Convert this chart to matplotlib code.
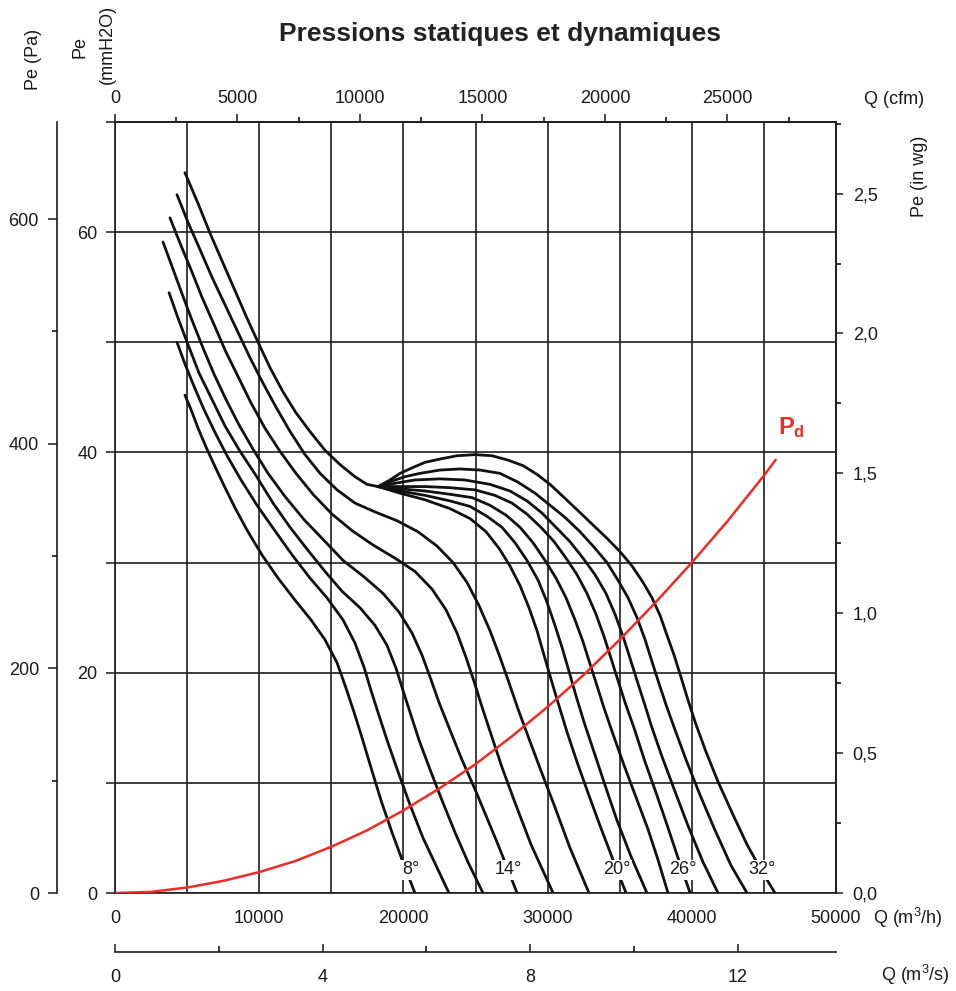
"""
Courbes débit / pression d'un ventilateur hélicoïde (angles de pale 8° à 32°)
"""
import matplotlib
matplotlib.use("Agg")
import matplotlib.pyplot as plt
from matplotlib.ticker import FuncFormatter
import numpy as np

plt.rcParams["font.family"] = ["Liberation Sans", "DejaVu Sans"]
plt.rcParams["mathtext.fontset"] = "custom"
plt.rcParams["mathtext.rm"] = "Liberation Sans"
plt.rcParams["mathtext.bf"] = "Liberation Sans:bold"
plt.rcParams["mathtext.it"] = "Liberation Sans:italic"

# ── couleurs ──────────────────────────────────────────
C_CURVE = "#111111"
C_GRID = "#1e1e1e"
C_PD = "#ee2b24"
C_TEXT = "#1a1a1a"

# ── données : Q (m3/h), Pe (mmH2O) ─────────────────────
q_08 = [4850, 5270, 5760, 6310, 6940, 7630, 8390, 9220, 10190, 11300, 12480, 13590, 14560, 15400,
        16020, 16580, 17130, 17750, 18450, 19210, 19970, 20800]
p_08 = [45.2, 43.9, 42.2, 40.5, 38.7, 36.8, 34.8, 32.8, 30.7, 28.6, 26.6, 24.8, 23.0, 20.9,
        18.6, 16.4, 14.1, 11.4, 8.4, 5.5, 2.8, 0.0]

q_10 = [4300, 4860, 5480, 6170, 6940, 7770, 8740, 9850, 11030, 12280, 13520, 14700, 15810, 16640,
        17270, 17750, 18240, 18860, 19630, 20460, 21360, 22260, 23160]
p_10 = [50.0, 48.0, 46.0, 43.9, 41.8, 39.7, 37.5, 35.2, 33.0, 30.7, 28.6, 26.8, 24.8, 22.7,
        20.5, 18.4, 16.4, 13.9, 11.0, 8.0, 5.0, 2.5, 0.0]

q_12 = [3750, 4370, 5060, 5830, 6730, 7630, 8670, 9780, 10960, 12140, 13390, 14560, 15740, 16990,
        18030, 18860, 19490, 19970, 20460, 21080, 21850, 22680, 23580, 24480, 25520]
p_12 = [54.5, 52.2, 49.8, 47.2, 44.8, 42.4, 40.1, 37.9, 35.4, 33.2, 31.1, 29.2, 27.4, 25.9,
        24.3, 22.5, 20.4, 18.4, 16.4, 13.9, 11.2, 8.4, 5.5, 2.8, 0.0]

q_14 = [3330, 3950, 4650, 5340, 6100, 6870, 7700, 8600, 9570, 10610, 11790, 13110, 14430, 15810,
        17270, 18590, 19700, 20600, 21290, 21850, 22470, 23230, 24060, 24970, 25800, 26560,
        27260, 27880]
p_14 = [59.1, 56.9, 54.4, 52.0, 49.5, 47.1, 44.8, 42.5, 40.3, 38.1, 36.0, 33.9, 32.1, 30.2,
        28.7, 27.2, 25.5, 23.6, 21.6, 19.6, 17.3, 14.8, 12.1, 9.4, 6.8, 4.4,
        2.1, 0.0]

q_16 = [3810, 4510, 5270, 6030, 6870, 7700, 8530, 9430, 10400, 11440, 12550, 13730, 15050, 16440,
        17890, 19420, 20800, 21980, 22960, 23720, 24340, 24900, 25450, 26080, 26840, 27740,
        28850, 30380]
p_16 = [61.3, 59.0, 56.6, 54.1, 51.6, 49.1, 46.9, 44.5, 42.2, 40.1, 38.1, 36.2, 34.4, 32.9,
        31.6, 30.4, 29.2, 27.6, 25.7, 23.6, 21.4, 19.2, 16.9, 14.4, 11.4, 8.2,
        4.4, 0.0]

q_18 = [4300, 5060, 5900, 6730, 7630, 8530, 9360, 10260, 11170, 12140, 13180, 14220, 15400, 16640,
        18030, 19560, 21010, 22330, 23440, 24410, 25240, 26010, 26700, 27320, 27950, 28710,
        29540, 30450, 31550, 32870]
p_18 = [63.4, 60.9, 58.4, 55.9, 53.4, 50.9, 48.6, 46.3, 44.1, 41.9, 39.8, 38.1, 36.6, 35.4,
        34.6, 33.8, 32.8, 31.5, 30.0, 28.2, 26.1, 23.8, 21.4, 19.1, 16.7, 14.0,
        11.1, 8.0, 4.1, 0.0]

# branche commune (zone de décrochage) des angles 20° à 32°, jusqu'au point de pincement
q_stall = [4850, 5760, 6590, 7420, 8320, 9150, 9920, 10750, 11650, 12550, 13520, 14560, 15600,
           16640, 17480, 18240]
p_stall = [65.4, 62.6, 59.9, 57.4, 54.7, 52.2, 50.0, 47.7, 45.5, 43.6, 41.9, 40.2, 38.9,
           37.8, 37.1, 36.9]

q_20 = [19770, 21500, 23230, 24620, 25730, 26630, 27390, 28090, 28710, 29270, 29750, 30240,
        30720, 31350, 32040, 32800, 33640, 34540, 35440]
p_20 = [36.3, 35.7, 34.9, 34.0, 32.8, 31.3, 29.7, 27.9, 25.9, 23.8, 21.6, 19.4,
        17.3, 14.6, 11.9, 9.1, 6.1, 3.0, 0.0]

q_22 = [19770, 21500, 23230, 24620, 25800, 26840, 27740, 28570, 29340, 29960, 30510, 31000,
        31490, 31970, 32530, 33220, 33980, 34810, 35790, 36890]
p_22 = [36.5, 36.1, 35.6, 35.1, 34.2, 33.2, 31.8, 30.2, 28.4, 26.4, 24.3, 22.3,
        20.1, 17.9, 15.5, 12.8, 9.8, 6.6, 3.3, 0.0]

q_24 = [19770, 21500, 23230, 24760, 26010, 27120, 28090, 28990, 29820, 30580, 31280, 31900,
        32460, 32940, 33430, 33910, 34540, 35300, 36130, 36960, 37660, 38350]
p_24 = [36.7, 36.5, 36.2, 35.9, 35.2, 34.3, 33.2, 31.8, 30.2, 28.6, 26.8, 24.8,
        22.8, 20.8, 18.8, 16.8, 14.4, 11.6, 8.7, 5.8, 3.0, 0.0]

q_26 = [19770, 21500, 23230, 24970, 26350, 27530, 28570, 29540, 30450, 31280, 32040, 32730,
        33360, 33910, 34400, 34880, 35370, 35990, 36760, 37520, 38280, 39040, 39880]
p_26 = [36.9, 36.9, 36.8, 36.6, 36.1, 35.4, 34.4, 33.2, 31.9, 30.4, 28.9, 27.2,
        25.3, 23.3, 21.3, 19.3, 17.3, 15.0, 11.9, 9.1, 6.2, 3.2, 0.0]

q_28 = [19420, 20800, 22540, 24270, 26010, 27390, 28570, 29610, 30580, 31550, 32460, 33290,
        34050, 34680, 35230, 35720, 36200, 36690, 37240, 37930, 38840, 39740, 40780, 41820]
p_28 = [37.2, 37.5, 37.6, 37.5, 37.1, 36.5, 35.6, 34.5, 33.2, 31.9, 30.4, 28.9,
        27.2, 25.3, 23.3, 21.3, 19.3, 17.3, 15.0, 12.4, 9.2, 6.1, 2.8, 0.0]

q_30 = [19210, 20110, 21150, 22540, 23930, 25310, 26700, 27950, 29130, 30170, 31210, 32250,
        33220, 34120, 34880, 35580, 36200, 36760, 37240, 37730, 38210, 38840, 39600, 40570,
        41610, 42720, 43830]
p_30 = [37.4, 37.8, 38.1, 38.4, 38.5, 38.4, 38.1, 37.3, 36.3, 35.2, 34.1, 32.8,
        31.4, 30.0, 28.4, 26.8, 25.0, 23.0, 21.0, 19.0, 17.1, 14.8, 12.1, 8.9,
        5.7, 2.5, 0.0]

q_32 = [19070, 19770, 20600, 21500, 22540, 23720, 24970, 26150, 27260, 28300, 29270, 30170,
        31070, 32040, 33080, 34120, 35020, 35850, 36620, 37240, 37800, 38280, 38770, 39250,
        39740, 40290, 40990, 41820, 42860, 43830, 44800, 45770]
p_32 = [37.5, 38.1, 38.6, 39.1, 39.4, 39.7, 39.8, 39.7, 39.3, 38.8, 38.0, 37.1,
        36.0, 34.8, 33.5, 32.2, 31.0, 29.7, 28.2, 26.8, 25.2, 23.4, 21.6, 19.6,
        17.5, 15.3, 12.8, 10.1, 7.1, 4.4, 2.1, 0.0]

# pression dynamique Pd
q_pd = [0, 2500, 5000, 7500, 10000, 12500, 15000, 17500, 20000, 22500, 25000, 27500, 30000,
        32500, 35000, 37500, 40000, 42500, 45000, 45800]
p_pd = [0.0, 0.1, 0.5, 1.1, 1.9, 2.9, 4.2, 5.7, 7.5, 9.5, 11.7, 14.2, 16.9,
        19.8, 23.0, 26.4, 30.0, 33.8, 37.9, 39.3]

# étiquettes d'angle
angle_labels = ["8°", "14°", "20°", "26°", "32°"]
angle_q = [20500, 27300, 34800, 39400, 44900]
angle_p = [2.1, 2.1, 2.1, 2.1, 2.1]

# ── mise en page (pixels -> fractions) ────────────────
W_PX, H_PX = 956, 991


def fx(px):
    return px / W_PX


def fy(py):
    return 1 - py / H_PX


fig = plt.figure(figsize=(W_PX / 100, H_PX / 100), dpi=100)
ax = fig.add_axes([fx(115), fy(893), fx(836) - fx(115), fy(122) - fy(893)])

Q_MAX, P_MAX = 50000, 70.0
ax.set_xlim(0, Q_MAX)
ax.set_ylim(0, P_MAX)

ax.set_xticks(np.arange(0, 50001, 10000))
ax.set_xticks(np.arange(5000, 50000, 10000), minor=True)
ax.set_yticks([0, 20, 40, 60])
ax.set_yticks([10, 30, 50, 70], minor=True)
ax.grid(True, which="both", color=C_GRID, lw=1.2)
ax.tick_params(axis="x", which="both", length=0, pad=12, labelsize=13, colors=C_TEXT)
ax.tick_params(axis="y", which="both", direction="out", length=6.5, width=1.1,
               pad=6, labelsize=13, colors=C_TEXT)
for s in ax.spines.values():
    s.set_linewidth(1.2)
    s.set_color(C_GRID)

# courbes
line_kw = dict(color=C_CURVE, lw=2.0, solid_joinstyle="round", solid_capstyle="round", zorder=3)
lower = [(q_08, p_08), (q_10, p_10), (q_12, p_12), (q_14, p_14), (q_16, p_16), (q_18, p_18)]
upper = [(q_20, p_20), (q_22, p_22), (q_24, p_24), (q_26, p_26), (q_28, p_28), (q_30, p_30), (q_32, p_32)]
for q, p in lower:
    ax.plot(q, p, **line_kw)
ax.plot(q_stall, p_stall, **line_kw)
for q, p in upper:
    ax.plot([q_stall[-1]] + q, [p_stall[-1]] + p, **line_kw)

ax.plot(q_pd, p_pd, color=C_PD, lw=1.8, zorder=4)
ax.text(46900, 42.3, r"$\mathbf{P_d}$", color=C_PD, fontsize=17, ha="center", va="center")

for lab, q, p in zip(angle_labels, angle_q, angle_p):
    ax.text(q, p, lab, ha="center", va="center", fontsize=13, color=C_TEXT,
            bbox=dict(boxstyle="square,pad=0.08", fc="white", ec="none"), zorder=5)

# axe Pa (gauche, décalé)
axpa = ax.twinx()
axpa.set_ylim(0, P_MAX * 9.80665)
axpa.yaxis.set_ticks_position("left")
axpa.spines["left"].set_position(("outward", 41.8))
for side in ("right", "top", "bottom"):
    axpa.spines[side].set_visible(False)
axpa.spines["left"].set_linewidth(1.2)
axpa.spines["left"].set_color(C_GRID)
axpa.set_yticks([0, 200, 400, 600])
axpa.set_yticks([100, 300, 500], minor=True)
axpa.tick_params(axis="y", which="major", length=6.5, width=1.1, pad=6.5, labelsize=13, colors=C_TEXT)
axpa.tick_params(axis="y", which="minor", length=3.6, width=1.1)

# axe in wg (droite)
axwg = ax.twinx()
axwg.set_ylim(0, P_MAX / 25.4)
for side in ("left", "top", "bottom"):
    axwg.spines[side].set_visible(False)
axwg.spines["right"].set_linewidth(1.2)
axwg.spines["right"].set_color(C_GRID)
axwg.set_yticks(np.arange(0, 2.51, 0.5))
axwg.set_yticks(np.arange(0.25, 2.76, 0.5), minor=True)
axwg.yaxis.set_major_formatter(FuncFormatter(lambda v, _: f"{v:.1f}".replace(".", ",")))
axwg.tick_params(axis="y", which="major", length=5, width=1.1, pad=7, labelsize=13, colors=C_TEXT)
axwg.tick_params(axis="y", which="minor", length=3.6, width=1.1)

# axe cfm (haut)
axc = ax.twiny()
axc.set_xlim(0, Q_MAX / 1.699)
for side in ("left", "right", "bottom"):
    axc.spines[side].set_visible(False)
axc.spines["top"].set_linewidth(1.2)
axc.spines["top"].set_color(C_GRID)
axc.set_xticks(np.arange(0, 25001, 5000))
axc.set_xticks(np.arange(2500, 29000, 5000), minor=True)
axc.tick_params(axis="x", which="major", length=5.8, width=1.1, pad=5, labelsize=13, colors=C_TEXT)
axc.tick_params(axis="x", which="minor", length=3.6, width=1.1)

# axe m3/s (bas, séparé)
ax3 = fig.add_axes([fx(115), fy(952), fx(836) - fx(115), 0.01])
ax3.set_xlim(0, Q_MAX / 3600)
ax3.patch.set_visible(False)
for side in ("left", "right", "top"):
    ax3.spines[side].set_visible(False)
ax3.spines["bottom"].set_linewidth(1.2)
ax3.spines["bottom"].set_color(C_GRID)
ax3.set_yticks([])
ax3.set_xticks([0, 4, 8, 12])
ax3.set_xticks([2, 6, 10], minor=True)
ax3.tick_params(axis="x", which="major", direction="in", length=6, width=1.1, pad=12,
                labelsize=13, colors=C_TEXT)
ax3.tick_params(axis="x", which="minor", direction="in", length=4, width=1.1)

# textes
fig.text(fx(500), fy(41), "Pressions statiques et dynamiques", ha="center", va="baseline",
         fontsize=19, fontweight="bold", color="#222222")
fig.text(fx(33), fy(59), "Pe (Pa)", rotation=90, ha="center", va="center", fontsize=13, color=C_TEXT)
fig.text(fx(80), fy(47), "Pe", rotation=90, ha="center", va="center", fontsize=13, color=C_TEXT)
fig.text(fx(107), fy(44), "(mmH2O)", rotation=90, ha="center", va="center", fontsize=13, color=C_TEXT)
fig.text(fx(894), fy(100), "Q (cfm)", ha="center", va="center", fontsize=13, color=C_TEXT)
fig.text(fx(920), fy(176), "Pe (in wg)", rotation=90, ha="center", va="center", fontsize=13,
         color=C_TEXT)
fig.text(fx(908), fy(918), r"Q (m$^3$/h)", ha="center", va="center", fontsize=13, color=C_TEXT)
fig.text(fx(915), fy(975), r"Q (m$^3$/s)", ha="center", va="center", fontsize=13, color=C_TEXT)

fig.savefig("out.png", dpi=100)
